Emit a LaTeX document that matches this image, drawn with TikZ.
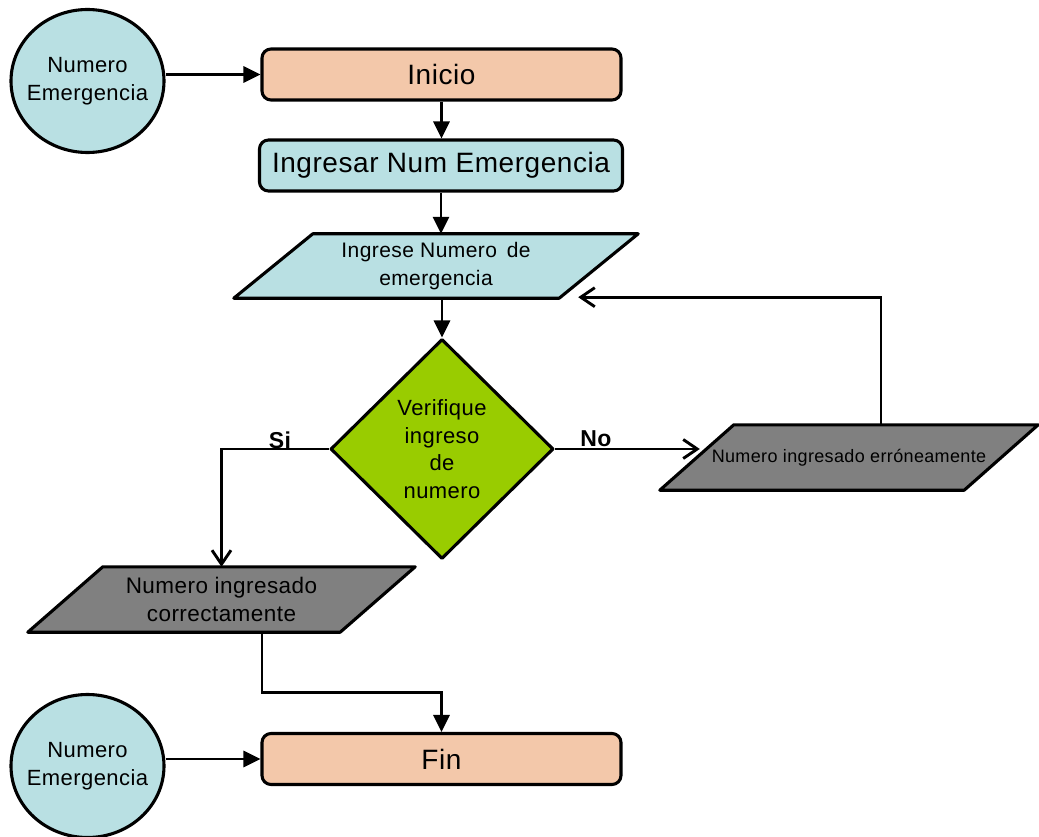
\documentclass[tikz,border=0pt]{standalone}
\usepackage{fontspec}
\setmainfont{Liberation Sans}[LetterSpace=2]
\usetikzlibrary{shapes.geometric,arrows.meta,calc,backgrounds}
\definecolor{peach}{RGB}{243,200,170}
\definecolor{paleblue}{RGB}{185,224,227}
\definecolor{leaf}{RGB}{153,204,0}
\definecolor{slate}{RGB}{128,128,128}

\begin{document}
\begin{tikzpicture}[x=1pt,y=-1pt,
  every node/.style={text=black},
  shapeline/.style={draw=black, line width=3.1pt, line join=round},
  conn/.style={draw=black, line width=2.9pt},
  solidtip/.style={conn, -{Triangle[length=17pt,width=16pt]}},
  opentip/.style={conn, -{Straight Barb[length=14pt,width=19pt,line width=2.9pt]}},
  terminal/.style={shapeline, rectangle, rounded corners=9pt, fill=peach,
    minimum width=359pt, minimum height=51pt, font=\fontsize{28}{32}\selectfont},
  process/.style={shapeline, rectangle, rounded corners=9pt, fill=paleblue,
    minimum width=363pt, minimum height=51pt, font=\fontsize{28}{32}\selectfont},
  connector/.style={shapeline, ellipse, fill=paleblue, minimum width=153pt,
    minimum height=143pt, inner xsep=-20pt, inner ysep=0pt, align=center,
    font=\fontsize{22}{28}\selectfont},
  iobox/.style={rectangle, inner sep=0pt, align=center},
  decision/.style={shapeline, diamond, fill=leaf, inner sep=0pt, minimum width=223pt,
    minimum height=220pt, align=center, font=\fontsize{22}{27.5}\selectfont},
  answer/.style={font=\fontsize{23}{26}\selectfont\bfseries},
]
\useasboundingbox (0,0) rectangle (1039,837);

% terminals, process and off-page connectors
\node[connector] (c1) at (87.5,81) {Numero\\Emergencia};
\node[terminal] (inicio) at (441.5,74.5) {Inicio};
\node[process] (ingresar) at (441,165.5) {Ingresar Num Emergencia};

% input / output boxes (outline drawn behind)
\node[iobox, minimum width=404pt, minimum height=64pt, font=\fontsize{21}{28}\selectfont]
  (p1) at (436,266) {Ingrese Numero \,de\\emergencia};
\node[decision] (dia) at (442,449) {Verifique\\ingreso\\de\\numero};
\node[iobox, minimum width=387pt, minimum height=65pt, font=\fontsize{22.5}{28}\selectfont]
  (p2) at (221.5,599.5) {Numero ingresado\\correctamente};
\node[iobox, minimum width=378pt, minimum height=65pt, font=\fontsize{18}{20}\selectfont]
  (p3) at (849,457.5) {Numero ingresado erróneamente};

\node[terminal] (fin) at (441.5,759) {Fin};
\node[connector] (c2) at (87.5,766) {Numero\\Emergencia};

\begin{scope}[on background layer]
  \path[shapeline, fill=paleblue] ($(p1.north west)+(79,0)$) -- (p1.north east)
    -- ($(p1.south east)+(-79,0)$) -- (p1.south west) -- cycle;
  \path[shapeline, fill=slate] ($(p2.north west)+(75,0)$) -- (p2.north east)
    -- ($(p2.south east)+(-75,0)$) -- (p2.south west) -- cycle;
  \path[shapeline, fill=slate] ($(p3.north west)+(74,0)$) -- (p3.north east)
    -- ($(p3.south east)+(-74,0)$) -- (p3.south west) -- cycle;
\end{scope}

% branch labels
\node[answer] (si) at (280,440) {Si};
\node[answer] (no) at (596,439) {No};

% connectors
\coordinate (p3edge) at ($(p3.west)+(40,0)$);
\coordinate (p3top) at ($(p3.north)+(32,0)$);
\coordinate (p1back) at ($(p1.south east)+(-60,-1)$);
\coordinate (p2out) at ($(p2.south)+(40.5,0)$);

\draw[solidtip] (c1.east |- inicio.west) -- (inicio.west);
\draw[solidtip] (inicio.south) -- (inicio.south |- ingresar.north);
\draw[solidtip] (ingresar.south) -- (ingresar.south |- p1.north);
\draw[solidtip] (p1.south -| dia.north) -- (dia.north);
\draw[opentip] (dia.west) -| (p2.north);
\draw[opentip] (dia.east) -- (dia.east -| p3edge);
\draw[opentip] (p3top) |- (p1back);
\draw[solidtip] (p2out) -- ++(0,60) -| (fin.north);
\draw[solidtip] (c2.east |- fin.west) -- (fin.west);
\end{tikzpicture}
\end{document}
